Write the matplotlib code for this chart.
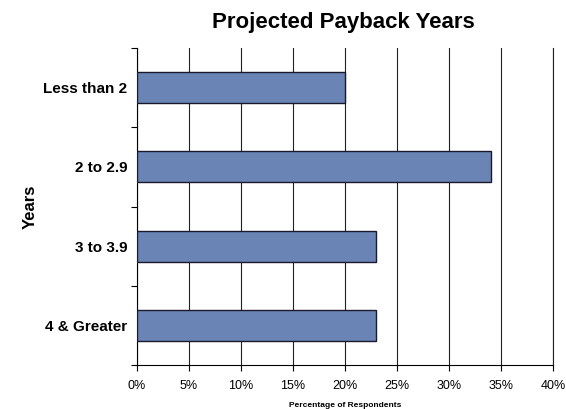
import matplotlib
matplotlib.use("Agg")
import matplotlib.pyplot as plt
from matplotlib.ticker import FixedLocator

plt.rcParams['font.family'] = ['Liberation Sans', 'DejaVu Sans']

categories = ["Less than 2", "2 to 2.9", "3 to 3.9", "4 & Greater"]
values = [20, 34, 23, 23]
xticks = [0, 5, 10, 15, 20, 25, 30, 35, 40]
xtick_labels = ["0%", "5%", "10%", "15%", "20%", "25%", "30%", "35%", "40%"]

fig = plt.figure(figsize=(5.66, 4.09), dpi=100)
ax = fig.add_axes([137/566, 1-365/409, (553-137)/566, (365-48)/409])

pos = list(range(len(categories)))
ax.barh(pos, values, height=0.39, color="#6B84B6", edgecolor="#1a1a2e",
        linewidth=1.0, zorder=3)
ax.set_ylim(len(categories)-0.5, -0.5)
ax.set_xlim(0, 40)
ax.set_xticks(xticks)
ax.set_xticklabels(xtick_labels, fontsize=9)
ax.set_yticks(pos)
ax.set_yticklabels(categories, fontsize=11, fontweight="bold")
ax.tick_params(axis='y', which='major', length=0, pad=7)
ax.yaxis.set_minor_locator(FixedLocator([-0.5, 0.5, 1.5, 2.5, 3.5]))
ax.tick_params(axis='y', which='minor', length=4, width=0.8, direction='out')
ax.tick_params(axis='x', which='major', length=4, width=0.8, direction='out', pad=7)
ax.grid(axis='x', color="#222222", linewidth=0.8, zorder=0)
ax.spines['top'].set_visible(False)
ax.spines['right'].set_color("#222222")
ax.spines['right'].set_linewidth(0.8)
ax.spines['left'].set_linewidth(0.8)
ax.spines['bottom'].set_linewidth(0.8)

ax.set_xlabel("Percentage of Respondents", fontsize=6, fontweight="bold", labelpad=7)
fig.text(30/566, 1-207/409, "Years", rotation=90, fontsize=12, fontweight="bold",
         ha="center", va="center")
fig.text(343.5/566, 1-28/409, "Projected Payback Years", fontsize=16, fontweight="bold",
         ha="center", va="baseline")

fig.savefig("out.png", dpi=100)
